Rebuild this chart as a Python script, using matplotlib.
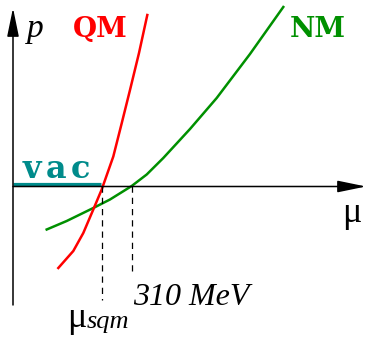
import matplotlib
matplotlib.use('Agg')
import matplotlib.pyplot as plt

# coordinates: mu to the right of the p axis, p above the mu axis (pixel-like units)
qm_mu = [45.3, 60.3, 70.3, 80.3, 88.7, 100.3, 108.7, 117.0, 126.0, 134.3]
qm_p = [-82.0, -65.0, -47.0, -23.5, -3.5, 29.5, 62.7, 96.0, 133.0, 171.0]

nm_mu = [33.7, 53.7, 80.3, 97.0, 118.7, 133.7, 150.3, 177.0, 203.7, 237.0, 270.3]
nm_p = [-43.5, -35.0, -22.0, -13.5, 0.0, 11.5, 28.0, 57.0, 88.0, 132.0, 179.0]

vac_mu = [0, 88]
vac_p = [2, 2]

mu_sqm = 89.3
mu_nm = 118.7
dash_bottom = [-114, -90]

fig = plt.figure(figsize=(3.68, 3.41), dpi=100)
ax = fig.add_axes([0, 0, 1, 1])
ax.set_xlim(-13, 355)
ax.set_ylim(-155, 186)
ax.axis('off')

# axes with arrows
arrow = dict(arrowstyle='-|>,head_length=1.75,head_width=0.36', mutation_scale=10,
             color='black', lw=1.1, shrinkA=0, shrinkB=0)
ax.annotate('', xy=(0, 178), xytext=(0, -119), arrowprops=arrow)
ax.annotate('', xy=(353, -0.5), xytext=(0, -0.5), arrowprops=arrow)

# vacuum line
ax.plot(vac_mu, vac_p, color='#008b8b', lw=2.3, solid_capstyle='butt')

# curves
ax.plot(nm_mu, nm_p, color='#009000', lw=1.8, solid_joinstyle='round')
ax.plot(qm_mu, qm_p, color='#ff0000', lw=1.8, solid_joinstyle='round')

# dashed guides
ax.plot([mu_sqm, mu_sqm], [0, dash_bottom[0]], color='black', lw=0.9, ls=(0, (5, 4)))
ax.plot([mu_nm, mu_nm], [0, dash_bottom[1]], color='black', lw=0.9, ls=(0, (5, 4)))

serif = 'Liberation Serif'
slab = 'DejaVu Serif'
ax.text(14, 149, 'p', family=serif, style='italic', fontsize=24, va='baseline', ha='left')
ax.text(60, 149, 'QM', family=slab, weight='bold', fontsize=20, color='#ff0000',
        va='baseline', ha='left')
ax.text(277, 149, 'NM', family=slab, weight='bold', fontsize=20, color='#009000',
        va='baseline', ha='left')
for i, ch in enumerate('vac'):
    ax.text(19 + 24 * i, 8, ch, family=slab, weight='bold', fontsize=23, color='#008b8b',
            va='baseline', ha='center')
ax.text(329, -36, 'μ', family=serif, fontsize=26, va='baseline', ha='left')
ax.text(54, -141, 'μ', family=serif, fontsize=26, va='baseline', ha='left')
ax.text(74, -142, 'sqm', family=serif, style='italic', fontsize=19, va='baseline', ha='left')
ax.text(120, -119, '310 MeV', family=serif, style='italic', fontsize=23, va='baseline', ha='left')

fig.savefig('out.png', dpi=100)
